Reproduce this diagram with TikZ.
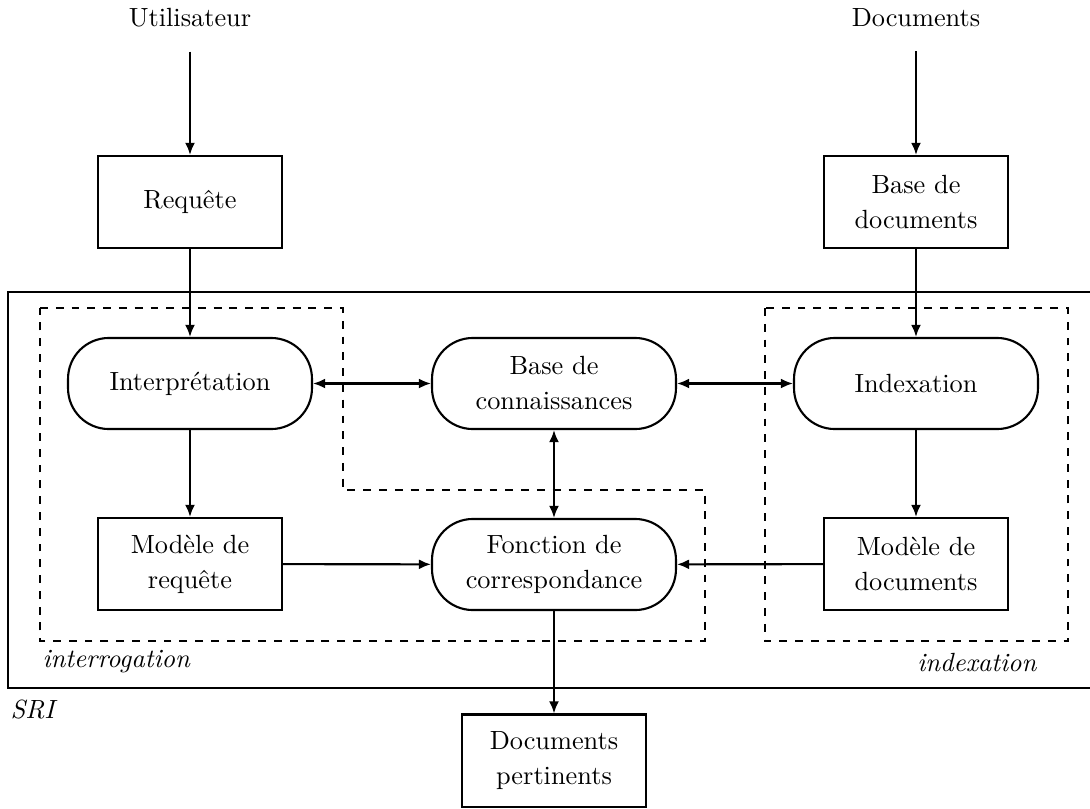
\documentclass[tikz,border=0pt]{standalone}
\usetikzlibrary{arrows.meta}
\begin{document}
\begin{tikzpicture}[x=0.38pt,y=-0.38pt,
  every node/.style={font=\fontsize{10}{13.3}\selectfont},
  boxnode/.style={draw,thick,rectangle,minimum width=69.9pt,minimum height=35pt,align=center,inner sep=0pt},
  roundnode/.style={draw,thick,rectangle,rounded corners=15.5pt,minimum width=92.7pt,minimum height=34.6pt,align=center,inner sep=0pt},
  conn/.style={thick,-{Latex[length=4.6pt,width=3.8pt]}},
  biconn/.style={thick,{Latex[length=4.6pt,width=3.8pt]}-{Latex[length=4.6pt,width=3.8pt]}},
  region/.style={thick,dashed},
  lbl/.style={inner sep=0pt}]
\useasboundingbox (0,0) rectangle (1090,808);
% outer system box
\draw[thick] (8,292) rectangle (1100,688);
\node[lbl,anchor=west,font=\itshape] (sri) at (10,709) {SRI};
% dashed regions
\draw[region] (40,308) -- (343,308) -- (343,490) -- (705,490) -- (705,641) -- (40,641) -- cycle;
\draw[region] (765,308) rectangle (1068,641);
\node[lbl,anchor=west,font=\itshape] (interr) at (42,662) {interrogation};
\node[lbl,anchor=east,font=\itshape] (indexl) at (1037,662) {indexation};
% top labels
\node[lbl] (user) at (190,18) {Utilisateur};
\node[lbl] (docs) at (916,18) {Documents};
% boxes
\node[boxnode] (req) at (190,202) {Requête};
\node[boxnode] (bdoc) at (916,202) {Base de\\documents};
\node[roundnode] (interp) at (190,383.5) {Interprétation};
\node[roundnode] (bconn) at (554,383.5) {Base de\\connaissances};
\node[roundnode] (index) at (916,383.5) {Indexation};
\node[boxnode] (mreq) at (190,564) {Modèle de\\requête};
\node[roundnode] (fonc) at (554,564.5) {Fonction de\\correspondance};
\node[boxnode] (mdoc) at (916,564) {Modèle de\\documents};
\node[boxnode] (dpert) at (554,760.5) {Documents\\pertinents};
% connectors
\draw[conn,shorten <=9pt] (user) -- (req);
\draw[conn,shorten <=9pt] (docs) -- (bdoc);
\draw[conn] (req) -- (interp);
\draw[conn] (bdoc) -- (index);
\draw[biconn] (interp) -- (bconn);
\draw[biconn] (bconn) -- (index);
\draw[conn] (interp) -- (mreq);
\draw[conn] (index) -- (mdoc);
\draw[biconn] (bconn) -- (fonc);
\draw[conn] (mreq) -- (fonc);
\draw[conn] (mdoc) -- (fonc);
\draw[conn] (fonc) -- (dpert);
\end{tikzpicture}
\end{document}
